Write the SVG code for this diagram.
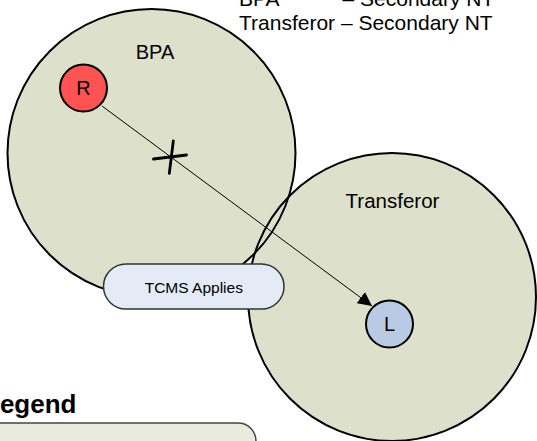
<svg xmlns="http://www.w3.org/2000/svg" width="537" height="441" viewBox="0 0 537 441">
<defs>
<style>
.t{font-family:"Liberation Sans",Arial,sans-serif;fill:#000}
.zone{fill:#DDE0CA;stroke:none}
.zoneEdge{fill:none;stroke:#000;stroke-width:2}
.node{stroke:#000;stroke-width:2}
.conn{stroke:#000;stroke-width:1;fill:none}
</style>
<marker id="arr" viewBox="0 0 10 10" refX="10" refY="5" markerWidth="14" markerHeight="14" markerUnits="userSpaceOnUse" orient="auto">
<path d="M0,0 L10,5 L0,10 z" fill="#000"/>
</marker>
</defs>
<rect width="537" height="441" fill="#fff"/>
<g id="legend">
<rect x="-30" y="423" width="286" height="60" rx="18" fill="#E9EBDE" stroke="#444" stroke-width="1.5"/>
<text class="t" x="-16" y="413" font-size="26" font-weight="bold">Legend</text>
</g>
<g id="zones">
<circle class="zone" cx="151.5" cy="153" r="144"/>
<circle class="zone" cx="392" cy="297" r="144"/>
<circle class="zoneEdge" cx="151.5" cy="153" r="144"/>
<circle class="zoneEdge" cx="392" cy="297" r="144"/>
</g>
<g id="bpa">
<text class="t" x="155" y="59" font-size="20" text-anchor="middle">BPA</text>
</g>
<g id="transferor">
<text class="t" x="392.5" y="207.5" font-size="20.5" text-anchor="middle">Transferor</text>
</g>
<g id="key">
<text class="t" x="239" y="6" font-size="21">BPA<tspan x="342.5">– Secondary NT</tspan></text>
<text class="t" x="239" y="30" font-size="21">Transferor – Secondary NT</text>
</g>
<g id="tcms">
<rect x="103.5" y="264" width="180.5" height="45" rx="22.5" fill="#E4EBF7" stroke="#333" stroke-width="1.5"/>
<text class="t" x="193.8" y="292.5" font-size="15.5" text-anchor="middle">TCMS Applies</text>
</g>
<g id="connectors">
<line class="conn" x1="102" y1="106" x2="372" y2="306" marker-end="url(#arr)"/>
<path d="M153.5,159 L186.5,155 M173.3,141 L169.3,173.3" stroke="#000" stroke-width="2.8" fill="none" stroke-linecap="round"/>
</g>
<g id="R">
<circle class="node" cx="83.5" cy="88" r="23.5" fill="#FF5353"/>
<text class="t" x="83.5" y="95" font-size="20" text-anchor="middle">R</text>
</g>
<g id="L">
<circle class="node" cx="389.5" cy="324" r="23.5" fill="#B9CAE4"/>
<text class="t" x="389.5" y="331" font-size="20" text-anchor="middle">L</text>
</g>
</svg>
